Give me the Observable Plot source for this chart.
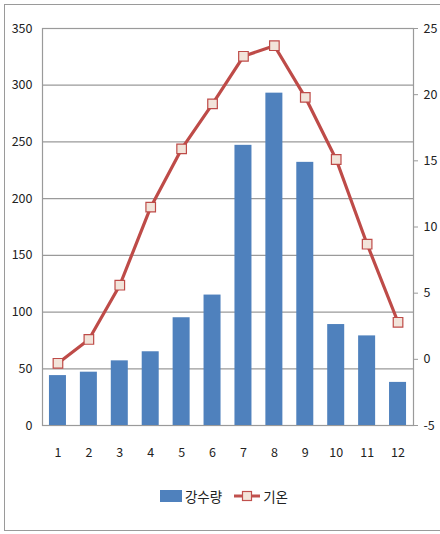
<!DOCTYPE html>
<html>
<head>
<meta charset="utf-8">
<script src="https://cdn.jsdelivr.net/npm/d3@7"></script>
<script src="https://cdn.jsdelivr.net/npm/@observablehq/plot@0.6"></script>
<style>
  html, body { margin: 0; padding: 0; background: #fff; }
  #wrap { position: relative; width: 440px; height: 534px; overflow: hidden; font-family: "Noto Sans CJK KR", "Noto Sans", sans-serif; }
  #border { position: absolute; left: 4px; top: 4px; width: 460px; height: 527px; border: 1.5px solid #9a9a9a; box-sizing: border-box; }
  #chart { position: absolute; left: 0; top: 0; }
  #legend { position: absolute; top: 486px; left: 4px; width: 440px; display: flex; justify-content: center; align-items: center; font-size: 13.5px; color: #222; }
  .sw { display: inline-block; }
</style>
</head>
<body>
<div id="wrap">
  <div id="border"></div>
  <div id="chart"></div>
  <div id="legend">
    <span class="sw" style="width:22px;height:12px;background:#4F81BD;margin-right:3px;"></span>
    <span style="margin-right:12px;">강수량</span>
    <svg width="26" height="14" style="margin-right:3px;">
      <line x1="0" y1="7" x2="26" y2="7" stroke="#C0504D" stroke-width="3"/>
      <rect x="8.5" y="2.5" width="9" height="9" fill="#F2E4DA" stroke="#C0504D" stroke-width="1.2"/>
    </svg>
    <span>기온</span>
  </div>
</div>
<script>
const months = [1, 2, 3, 4, 5, 6, 7, 8, 9, 10, 11, 12];
const rain = [44, 47, 57, 65, 95, 115, 247, 293, 232, 89, 79, 38];
const temp = [-0.3, 1.5, 5.6, 11.5, 15.9, 19.3, 22.9, 23.7, 19.8, 15.1, 8.7, 2.8];
const leftTicks = [0, 50, 100, 150, 200, 250, 300, 350];
const rightTicks = [-5, 0, 5, 10, 15, 20, 25];

const leftMax = 350, rightMin = -5, rightMax = 25;
const toLeft = t => (t - rightMin) * leftMax / (rightMax - rightMin);
const fromLeft = v => Math.round(v * (rightMax - rightMin) / leftMax + rightMin);

const data = months.map((m, i) => ({month: m, rain: rain[i], temp: temp[i]}));

const chart = Plot.plot({
  width: 440,
  height: 475,
  marginTop: 28,
  marginLeft: 42,
  marginRight: 27,
  marginBottom: 50,
  style: {fontFamily: '"Noto Sans CJK KR", "Noto Sans", sans-serif', fontSize: "12.5px", color: "#222", background: "transparent"},
  x: {type: "band", domain: months, paddingInner: 0.45, paddingOuter: 0.225, round: false, label: null},
  y: {domain: [0, leftMax], label: null},
  marks: [
    Plot.ruleY(leftTicks, {stroke: "#9a9a9a", strokeWidth: 1.2}),
    Plot.frame({stroke: "#9a9a9a", strokeWidth: 1.2}),
    Plot.axisY(leftTicks, {anchor: "left", tickSize: 0, tickPadding: 10, label: null, fill: "#222"}),
    Plot.axisY(rightTicks.map(toLeft), {anchor: "right", tickSize: 4, tickPadding: 6, tickFormat: fromLeft, label: null, stroke: "#9a9a9a", fill: "#222"}),
    Plot.axisX(months, {tickSize: 0, tickPadding: 23, label: null, fill: "#222"}),
    Plot.barY(data, {x: "month", y: "rain", fill: "#4F81BD"}),
    Plot.line(data, {x: "month", y: d => toLeft(d.temp), stroke: "#BE4B48", strokeWidth: 3.2}),
    Plot.dot(data, {x: "month", y: d => toLeft(d.temp), symbol: "square", r: 5.4, fill: "#F2E4DA", stroke: "#BE4B48", strokeWidth: 1.2})
  ]
});
document.getElementById("chart").appendChild(chart);
</script>
</body>
</html>
